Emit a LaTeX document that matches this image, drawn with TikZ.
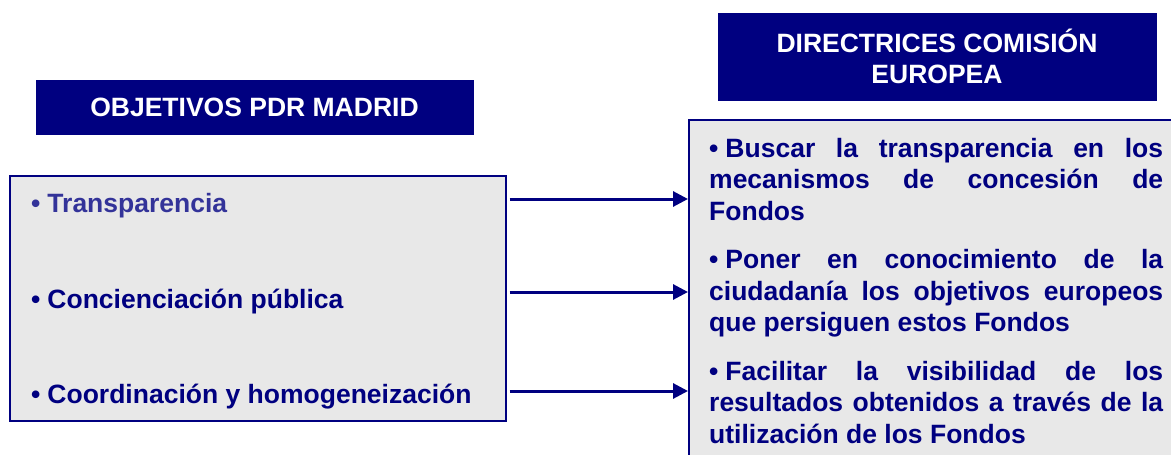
\documentclass[tikz,border=0pt]{standalone}
\usepackage{fontspec}
\setmainfont{Liberation Sans}
\usetikzlibrary{arrows.meta}
\definecolor{navy}{RGB}{0,0,128}
\definecolor{lightnavy}{RGB}{51,51,153}
\definecolor{boxgray}{RGB}{232,232,232}
\newcommand{\jline}[1]{\makebox[454pt][s]{#1}}
\newcommand{\bul}{\textbullet\kern 7pt}
\begin{document}
\begin{tikzpicture}[x=1pt,y=-1pt,
  txt/.style={font=\fontsize{26.5}{31}\selectfont\bfseries, inner sep=0pt, anchor=base west, text=navy},
  title/.style={fill=navy, draw=navy, text=white, font=\fontsize{26.5}{31}\selectfont\bfseries, align=center, inner sep=0pt},
  panel/.style={fill=boxgray, draw=navy, line width=1.5pt, anchor=north west, inner sep=0pt},
  arr/.style={draw=navy, line width=3pt, -{Triangle[length=15pt,width=15pt]}}]
\useasboundingbox (0,0) rectangle (1171,455);
% titles
\node[title, minimum width=437pt, minimum height=54pt] (tL) at (254.5,107) {OBJETIVOS PDR MADRID};
\node[title, minimum width=438pt, minimum height=87pt] (tR) at (937,56.5) {DIRECTRICES COMISIÓN\\EUROPEA};
% panels
\node[panel, minimum width=496pt, minimum height=245pt] (L) at (9,175) {};
\node[panel, minimum width=500pt, minimum height=360pt] (R) at (688,119) {};
% left items
\node[txt, text=lightnavy] (l1) at (31,212) {\bul Transparencia};
\node[txt] (l2) at (31,308) {\bul Concienciación pública};
\node[txt] (l3) at (31,403) {\bul Coordinación y homogeneización};
% right items
\node[txt] (r11) at (709,157) {\jline{\bul Buscar la transparencia en los}};
\node[txt] (r12) at (709,188.5) {\jline{mecanismos de concesión de}};
\node[txt] (r13) at (709,220) {Fondos};
\node[txt] (r21) at (709,268.5) {\jline{\bul Poner en conocimiento de la}};
\node[txt] (r22) at (709,300) {\jline{ciudadanía los objetivos europeos}};
\node[txt] (r23) at (709,331.5) {que persiguen estos Fondos};
\node[txt] (r31) at (709,380) {\jline{\bul Facilitar la visibilidad de los}};
\node[txt] (r32) at (709,411.5) {\jline{resultados obtenidos a través de la}};
\node[txt] (r33) at (709,443) {utilización de los Fondos};
% arrows
\coordinate (a1) at (0,199);
\coordinate (a2) at (0,292);
\coordinate (a3) at (0,391);
\draw[arr] ([xshift=3pt]L.east |- a1) -- (R.west |- a1);
\draw[arr] ([xshift=3pt]L.east |- a2) -- (R.west |- a2);
\draw[arr] ([xshift=3pt]L.east |- a3) -- (R.west |- a3);
\end{tikzpicture}
\end{document}
